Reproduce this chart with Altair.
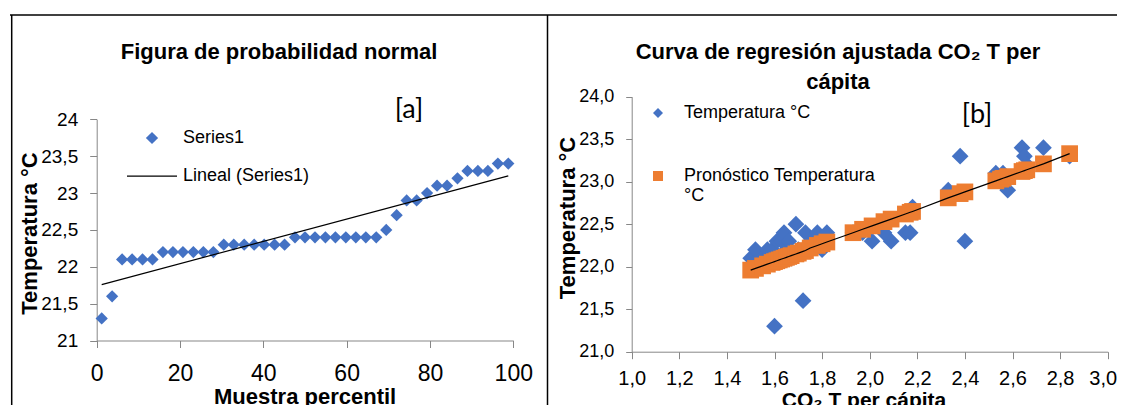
import altair as alt
import pandas as pd

# ---------------- data ----------------
# Panel [a]: normal probability plot (percentile, temperature)
left_pct = [1.2, 3.7, 6.1, 8.5, 11.0, 13.4, 15.9, 18.3, 20.7, 23.2, 25.6, 28.0, 30.5, 32.9,
            35.4, 37.8, 40.2, 42.7, 45.1, 47.6, 50.0, 52.4, 54.9, 57.3, 59.8, 62.2, 64.6,
            67.1, 69.5, 72.0, 74.4, 76.8, 79.3, 81.7, 84.1, 86.6, 89.0, 91.5, 93.9, 96.3, 98.8]
left_temp = [21.3, 21.6, 22.1, 22.1, 22.1, 22.1, 22.2, 22.2, 22.2, 22.2, 22.2, 22.2, 22.3, 22.3,
             22.3, 22.3, 22.3, 22.3, 22.3, 22.4, 22.4, 22.4, 22.4, 22.4, 22.4, 22.4, 22.4,
             22.4, 22.5, 22.7, 22.9, 22.9, 23.0, 23.1, 23.1, 23.2, 23.3, 23.3, 23.3, 23.4, 23.4]

# Panel [b]: CO2 per capita vs temperature and fitted temperature
co2 = [1.50, 1.52, 1.55, 1.57, 1.59, 1.60, 1.61, 1.62, 1.63, 1.64, 1.65, 1.66, 1.67, 1.69,
       1.70, 1.72, 1.73, 1.75, 1.78, 1.80, 1.82, 1.93, 1.97, 2.01, 2.06, 2.09, 2.15, 2.17,
       2.18, 2.33, 2.38, 2.40, 2.53, 2.55, 2.56, 2.58, 2.64, 2.65, 2.66, 2.73, 2.84]
temp_obs = [22.1, 22.2, 22.1, 22.2, 22.2, 21.3, 22.3, 22.1, 22.3, 22.4, 22.2, 22.3, 22.1, 22.5,
            22.2, 21.6, 22.4, 22.3, 22.4, 22.2, 22.4, 22.4, 22.4, 22.3, 22.4, 22.3, 22.4, 22.4,
            22.7, 22.9, 23.3, 22.3, 23.1, 23.0, 23.1, 22.9, 23.4, 23.3, 23.2, 23.4, 23.3]
temp_pred = [21.96, 21.98, 22.01, 22.03, 22.05, 22.06, 22.07, 22.08, 22.09, 22.10, 22.11, 22.12,
             22.13, 22.15, 22.16, 22.18, 22.19, 22.22, 22.25, 22.27, 22.29, 22.40, 22.44, 22.48,
             22.53, 22.56, 22.62, 22.64, 22.65, 22.81, 22.86, 22.88, 23.01, 23.03, 23.04, 23.06,
             23.12, 23.13, 23.14, 23.21, 23.33]

left_xticks = [0, 20, 40, 60, 80, 100]
left_yticks = [21, 21.5, 22, 22.5, 23, 23.5, 24]
right_xticks = [1.0, 1.2, 1.4, 1.6, 1.8, 2.0, 2.2, 2.4, 2.6, 2.8, 3.0]
right_yticks = [21.0, 21.5, 22.0, 22.5, 23.0, 23.5, 24.0]

left_series = ["Series1", "Lineal (Series1)"]
right_series = ["Temperatura °C", "Pronóstico Temperatura °C"]

# ---------------- style ----------------
FONT = "Liberation Sans, Arial, sans-serif"
BLUE = "#4472C4"
ORANGE = "#ED7D31"
GRAY = "#878787"
W, H = 1109, 397

L_XR = [88.7, 505.3]
L_YR = [332.5, 111.3]
R_XR = [623.7, 1099.7]
R_YR = [343.7, 88.7]


def axis_common(**kw):
    base = dict(grid=False, domainColor=GRAY, tickColor=GRAY, tickSize=7,
                labelFont=FONT, labelColor="black", titleFont=FONT, titleColor="black",
                titleFontWeight="bold", labelOverlap=False, labelBound=False,
                labelFlush=False)
    base.update(kw)
    return alt.Axis(**base)


# ---------------- panel [a] ----------------
df_left = pd.DataFrame({"pct": left_pct, "temp": left_temp, "serie": "Series1"})

xl = alt.X("pct:Q", scale=alt.Scale(domain=[0, 100], range=L_XR, nice=False),
           axis=axis_common(orient="bottom", offset=L_YR[0] - H, values=left_xticks,
                            labelFontSize=23, labelBaseline="middle", labelPadding=25.5,
                            title="Muestra percentil", titleFontSize=22,
                            titleX=296.6, titleY=56, titleBaseline="middle"))
yl = alt.Y("temp:Q", scale=alt.Scale(domain=[21, 24], range=L_YR, nice=False, zero=False),
           axis=axis_common(orient="left", offset=-L_XR[0], values=left_yticks,
                            labelFontSize=19, labelPadding=12,
                            labelExpr="replace(toString(datum.value), '.', ',')",
                            title="Temperatura °C", titleFontSize=22, titleAngle=270,
                            titleX=21 - L_XR[0], titleY=225, titleBaseline="middle",
                            titleAlign="center"))

leg_left = alt.Legend(orient="none", legendX=119, legendY=121, title=None,
                      labelFont=FONT, labelFontSize=18, labelColor="black", labelOffset=6,
                      rowPadding=4, padding=0, symbolStrokeWidth=0, labelLimit=400)

left_points = alt.Chart(df_left).mark_point(filled=True, opacity=1).encode(
    x=xl, y=yl,
    shape=alt.Shape("serie:N", scale=alt.Scale(domain=left_series,
                    range=["diamond", "M-1,-0.025H1V0.025H-1Z"]), legend=leg_left),
    color=alt.Color("serie:N", scale=alt.Scale(domain=left_series, range=[BLUE, "black"]),
                    legend=leg_left),
    size=alt.Size("serie:N", scale=alt.Scale(type="ordinal", domain=left_series,
                  range=[150, 2500]), legend=leg_left),
)
left_trend = alt.Chart(df_left).transform_regression("pct", "temp").mark_line(
    color="black", strokeWidth=1.2).encode(x=xl, y=yl)

left_panel = alt.layer(left_points, left_trend)

# ---------------- panel [b] ----------------
df_obs = pd.DataFrame({"co2": co2, "temp": temp_obs, "serie": right_series[0]})
df_pred = pd.DataFrame({"co2": co2, "temp": temp_pred, "serie": right_series[1]})

xr = alt.X("co2:Q", scale=alt.Scale(domain=[1, 3], range=R_XR, nice=False, zero=False),
           axis=axis_common(orient="bottom", offset=R_YR[0] - H, values=right_xticks,
                            labelFontSize=20, labelBaseline="middle", labelPadding=19.5,
                            labelOffset={"condition": {"test": "datum.value > 2.95",
                                                       "value": -5}, "value": 0},
                            labelExpr="replace(format(datum.value, '.1f'), '.', ',')",
                            title="CO₂ T per cápita", titleFontSize=21,
                            titleX=855.5, titleY=49, titleBaseline="middle"))
yr = alt.Y("temp:Q", scale=alt.Scale(domain=[21, 24], range=R_YR, nice=False, zero=False),
           axis=axis_common(orient="left", offset=-R_XR[0], values=right_yticks,
                            tickSize=6, labelFontSize=18, labelPadding=12,
                            labelExpr="replace(format(datum.value, '.1f'), '.', ',')",
                            title="Temperatura °C", titleFontSize=22, titleAngle=270,
                            titleX=559 - R_XR[0], titleY=209.5, titleBaseline="middle",
                            titleAlign="center"))

leg_right = alt.Legend(orient="none", legendX=641, legendY=96, title=None,
                       labelFont=FONT, labelFontSize=18, labelColor="black", labelOffset=17,
                       rowPadding=45, padding=0, symbolSize=100, symbolStrokeWidth=0,
                       labelLimit=400,
                       labelExpr="datum.label == 'Pronóstico Temperatura °C' ? "
                                 "['Pronóstico Temperatura', '°C'] : datum.label")

shape_r = alt.Shape("serie:N", scale=alt.Scale(domain=right_series, range=["diamond", "square"]),
                    legend=leg_right)
color_r = alt.Color("serie:N", scale=alt.Scale(domain=right_series, range=[BLUE, ORANGE]),
                    legend=leg_right)

right_obs = alt.Chart(df_obs).mark_point(filled=True, opacity=1, size=280).encode(
    x=xr, y=yr, shape=shape_r, color=color_r)
right_pred = alt.Chart(df_pred).mark_point(filled=True, opacity=1, size=280).encode(
    x=xr, y=yr, shape=shape_r, color=color_r)
right_line = alt.Chart(df_pred).mark_line(color="black", strokeWidth=1.2).encode(x=xr, y=yr)

right_panel = alt.layer(right_obs, right_pred, right_line)

# ---------------- texts and frame ----------------
one = pd.DataFrame({"k": [0]})


def label(text, x, y, size, weight="bold", font=FONT, line_height=None):
    kw = dict(align="center", baseline="middle", font=font, fontSize=size,
              fontWeight=weight, color="black")
    if line_height is not None:
        kw["lineHeight"] = line_height
    return alt.Chart(one).mark_text(**kw).encode(
        x=alt.value(x), y=alt.value(y), text=alt.value(text))


title_a = label("Figura de probabilidad normal", 271, 44, 22)
title_b = label(["Curva de regresión ajustada CO₂ T per", "cápita"], 830, 44, 22,
                line_height=30)
tag_a = label("[a]", 401, 102, 27, weight="normal", font="Lato")
tag_b = label("[b]", 969, 106.5, 27, weight="normal", font="Lato")


def rule(x, y, x2=None, y2=None):
    enc = dict(x=alt.value(x), y=alt.value(y))
    if x2 is not None:
        enc["x2"] = alt.value(x2)
    if y2 is not None:
        enc["y2"] = alt.value(y2)
    return alt.Chart(one).mark_rule(color="black", strokeWidth=1.5).encode(**enc)


frame = [rule(2, 7, x2=W), rule(3.7, 7, y2=H), rule(539.5, 7, y2=H)]

chart = alt.layer(left_panel, right_panel, title_a, title_b, tag_a, tag_b, *frame).resolve_scale(
    x="independent", y="independent", color="independent", shape="independent",
    size="independent"
).properties(
    width=W, height=H, padding=0, autosize=alt.AutoSizeParams(type="none"),
    background="white"
).configure_view(strokeWidth=0)

chart.save("out.html", embed_options={"renderer": "svg", "actions": False})
